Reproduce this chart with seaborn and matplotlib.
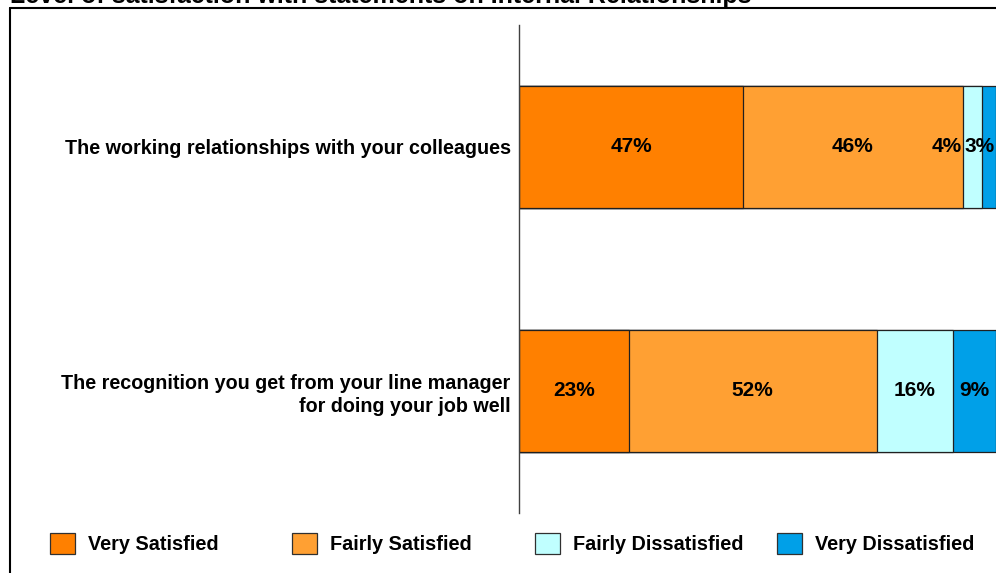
import numpy as np
import pandas as pd
import matplotlib
matplotlib.use("Agg")
import matplotlib.pyplot as plt
import seaborn as sns
from matplotlib.patches import Rectangle
from matplotlib.lines import Line2D

title = "Level of satisfaction with statements on Internal Relationships"
statements = [
    "The working relationships with your colleagues",
    "The recognition you get from your line manager\nfor doing your job well",
]
levels = ["Very Satisfied", "Fairly Satisfied", "Fairly Dissatisfied", "Very Dissatisfied"]
very_satisfied = [47, 23]
fairly_satisfied = [46, 52]
fairly_dissatisfied = [4, 16]
very_dissatisfied = [3, 9]
colors = ["#FF8000", "#FFA033", "#C0FFFF", "#00A0E8"]

sns.set_theme(style="white")
plt.rcParams["font.family"] = ["Liberation Sans", "DejaVu Sans"]
plt.rcParams["text.color"] = "black"

W, H = 996, 573
FS_CAT = 14.2
FS_VAL = 15
FS_LEG = 14.3
fig = plt.figure(figsize=(W / 100, H / 100), dpi=100)
ax = fig.add_axes([519 / W, 1 - 513 / H, (996 - 519) / W, (513 - 25) / H])

series = np.array([very_satisfied, fairly_satisfied, fairly_dissatisfied, very_dissatisfied])
cum = np.cumsum(series, axis=0)

# stacked bars: draw cumulative totals from the outermost segment inwards
df = pd.DataFrame({"statement": statements})
for i in range(len(levels) - 1, -1, -1):
    df["end"] = cum[i]
    sns.barplot(data=df, x="end", y="statement", orient="h", color=colors[i],
                width=0.5, saturation=1, edgecolor="#202020", linewidth=0.9, ax=ax)

ax.set_xlim(0, 100)
ax.set_ylim(1.5, -0.5)
ax.set_xlabel("")
ax.set_ylabel("")
ax.set_xticks([])
ax.set_yticks(range(len(statements)))
ax.set_yticklabels(statements, fontweight="bold", fontsize=FS_CAT, ha="right",
                   linespacing=1.3, color="black")
ax.tick_params(axis="y", length=0, pad=6)
for side in ["top", "right", "bottom"]:
    ax.spines[side].set_visible(False)
ax.spines["left"].set_color("#404040")
ax.spines["left"].set_linewidth(1.0)

# value labels, centred; narrow end segments are pushed left so they stay inside
label_w = 6.3
for j in range(len(statements)):
    next_left = 100.5
    for i in range(len(levels) - 1, -1, -1):
        v = series[i, j]
        end = cum[i, j]
        start = end - v
        centre = (start + end) / 2
        if v < 6:
            right = min(end, next_left - 0.3) - 0.3
            ax.text(right, j, f"{v}%", ha="right", va="center",
                    fontweight="bold", fontsize=FS_VAL, color="black")
            next_left = right - label_w
        else:
            ax.text(centre, j, f"{v}%", ha="center", va="center",
                    fontweight="bold", fontsize=FS_VAL, color="black")
            next_left = centre - label_w / 2

# legend, evenly spaced along the bottom
for i, name in enumerate(levels):
    x0 = 50 + 242.3 * i
    fig.add_artist(Rectangle((x0 / W, 1 - 554 / H), 25 / W, 21 / H,
                             transform=fig.transFigure, facecolor=colors[i],
                             edgecolor="#303030", linewidth=0.9))
    fig.text((x0 + 38) / W, 1 - 544 / H, name, ha="left", va="center",
             fontweight="bold", fontsize=FS_LEG, color="black")

# outer frame and heading
fig.add_artist(Line2D([9.5 / W, 1.0], [1 - 7.5 / H, 1 - 7.5 / H],
                      transform=fig.transFigure, color="black", linewidth=1.5))
fig.add_artist(Line2D([9.5 / W, 9.5 / W], [1 - 7.5 / H, 0.0],
                      transform=fig.transFigure, color="black", linewidth=1.5))
fig.text(10 / W, 1 - 3.5 / H, title, ha="left", va="baseline",
         fontweight="bold", fontsize=18, color="black")

fig.savefig("out.png", dpi=100)
